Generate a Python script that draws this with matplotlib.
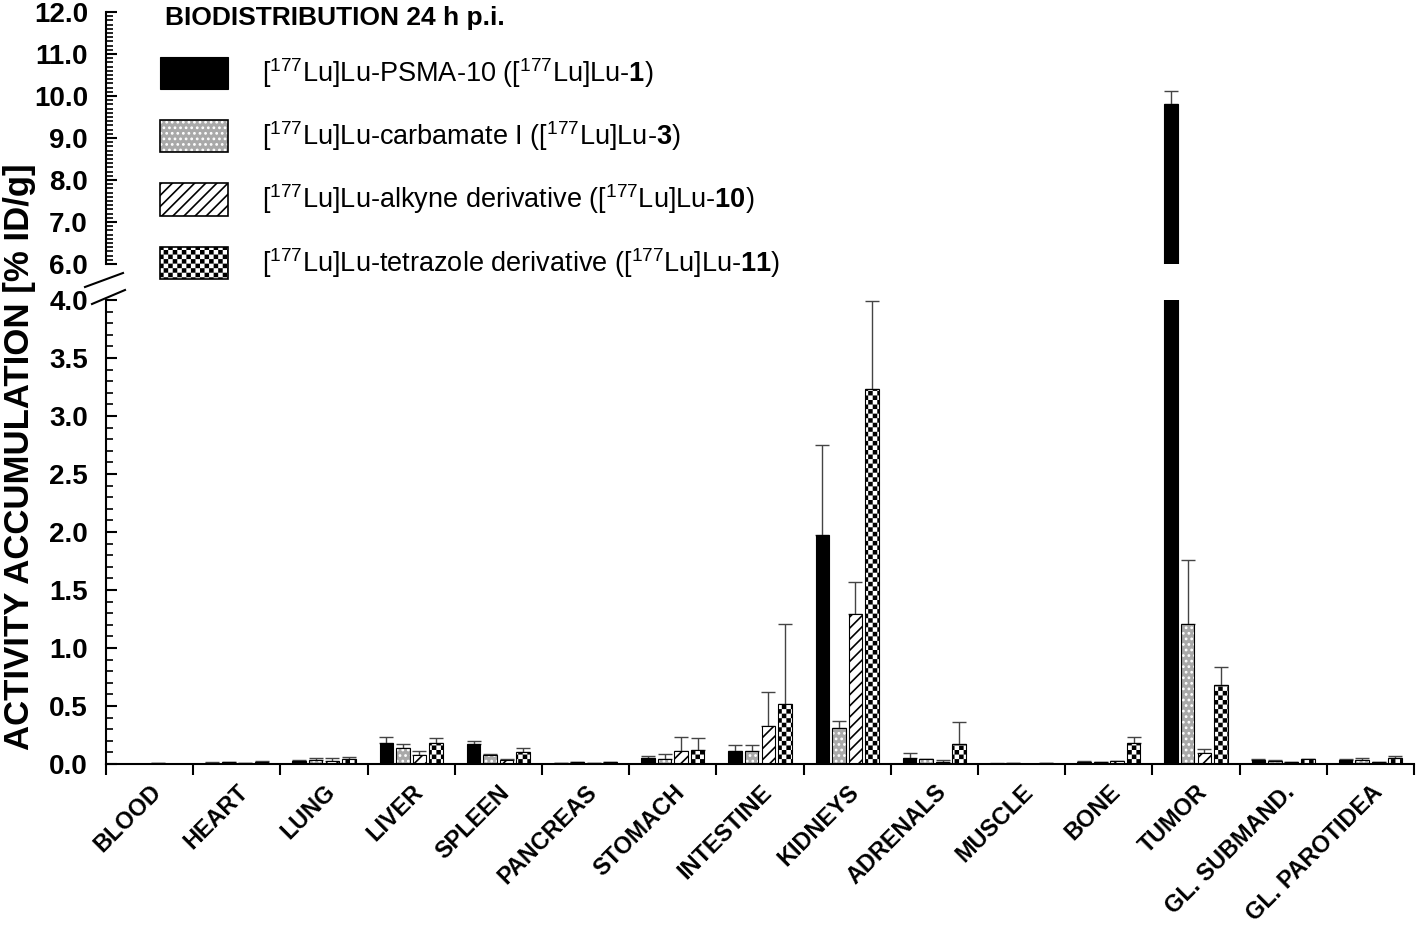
import numpy as np
import matplotlib
matplotlib.use('Agg')
import matplotlib.pyplot as plt
import matplotlib.hatch as mhatch
from matplotlib.path import Path
from matplotlib.patches import Patch
from matplotlib.lines import Line2D
from matplotlib.ticker import MultipleLocator, FormatStrFormatter

# organs (x categories)
organs = ['BLOOD', 'HEART', 'LUNG', 'LIVER', 'SPLEEN', 'PANCREAS', 'STOMACH',
          'INTESTINE', 'KIDNEYS', 'ADRENALS', 'MUSCLE', 'BONE', 'TUMOR',
          'GL. SUBMAND.', 'GL. PAROTIDEA']

# mean values [% ID/g] and SD (upper error only)
psma10 = [0.003, 0.012, 0.03, 0.18, 0.17, 0.01, 0.05, 0.11, 1.97, 0.055, 0.004, 0.02, 9.81, 0.035, 0.035]
psma10_sd = [0.001, 0.003, 0.005, 0.055, 0.025, 0.002, 0.015, 0.055, 0.78, 0.04, 0.001, 0.005, 0.31, 0.005, 0.005]

carbamate = [0.003, 0.013, 0.035, 0.135, 0.08, 0.013, 0.045, 0.11, 0.31, 0.04, 0.006, 0.017, 1.21, 0.03, 0.035]
carbamate_sd = [0.001, 0.003, 0.015, 0.04, 0.01, 0.002, 0.04, 0.055, 0.06, 0.005, 0.004, 0.003, 0.55, 0.005, 0.015]

alkyne = [0.005, 0.01, 0.03, 0.08, 0.035, 0.01, 0.11, 0.33, 1.29, 0.02, 0.002, 0.025, 0.095, 0.015, 0.015]
alkyne_sd = [0.003, 0.002, 0.025, 0.035, 0.005, 0.002, 0.12, 0.29, 0.28, 0.015, 0.001, 0.005, 0.035, 0.002, 0.002]

tetrazole = [0.002, 0.02, 0.045, 0.18, 0.105, 0.015, 0.12, 0.52, 3.23, 0.175, 0.006, 0.18, 0.68, 0.04, 0.05]
tetrazole_sd = [0.001, 0.005, 0.015, 0.045, 0.035, 0.003, 0.105, 0.69, 0.76, 0.19, 0.004, 0.05, 0.16, 0.005, 0.015]

series_labels = [
    r'[$^{177}$Lu]Lu-PSMA-10 ([$^{177}$Lu]Lu-$\mathbf{1}$)',
    r'[$^{177}$Lu]Lu-carbamate I ([$^{177}$Lu]Lu-$\mathbf{3}$)',
    r'[$^{177}$Lu]Lu-alkyne derivative ([$^{177}$Lu]Lu-$\mathbf{10}$)',
    r'[$^{177}$Lu]Lu-tetrazole derivative ([$^{177}$Lu]Lu-$\mathbf{11}$)',
]

plt.rcParams['font.family'] = 'Liberation Sans'
plt.rcParams['mathtext.fontset'] = 'custom'
plt.rcParams['mathtext.rm'] = 'Liberation Sans'
plt.rcParams['mathtext.it'] = 'Liberation Sans:italic'
plt.rcParams['mathtext.bf'] = 'Liberation Sans:bold'
plt.rcParams['hatch.linewidth'] = 1.2


# checkerboard hatch (replaces the '*' star pattern)
class CheckerHatch(mhatch.HatchPatternBase):
    cells = 22

    def __init__(self, hatch, density):
        self.on = hatch.count('*') > 0
        n = self.cells
        self.num_vertices = (n * n // 2) * 5 if self.on else 0

    def set_vertices_and_codes(self, vertices, codes):
        n = self.cells
        s = 1.0 / n
        d = plt.rcParams['hatch.linewidth'] / 144.0
        k = 0
        for i in range(n):
            for j in range(n):
                if (i + j) % 2 == 0:
                    x0, y0 = i * s + d, j * s + d
                    x1, y1 = (i + 1) * s - d, (j + 1) * s - d
                    vertices[k:k + 5] = [[x0, y0], [x1, y0], [x1, y1], [x0, y1], [x0, y0]]
                    codes[k:k + 5] = [Path.MOVETO, Path.LINETO, Path.LINETO,
                                      Path.LINETO, Path.CLOSEPOLY]
                    k += 5


mhatch._hatch_types = [h for h in mhatch._hatch_types if h is not mhatch.Stars] + [CheckerHatch]

fig = plt.figure(figsize=(14.18, 9.34), dpi=100)
W, H = 1418.0, 934.0
left, right = 106 / W, 1414 / W
ax_lo = fig.add_axes([left, (H - 764) / H, right - left, (764 - 300) / H])
ax_hi = fig.add_axes([left, (H - 264) / H, right - left, (264 - 12) / H])

x = np.arange(len(organs)) + 0.5
width = 0.155
step = 0.19
gray = '#a9a9a9'


def draw(ax):
    data = [(psma10, psma10_sd), (carbamate, carbamate_sd),
            (alkyne, alkyne_sd), (tetrazole, tetrazole_sd)]
    for i, (vals, sd) in enumerate(data):
        xi = x + (i - 1.5) * step
        ax.errorbar(xi, vals, yerr=[np.zeros(len(vals)), sd], fmt='none',
                    ecolor='#444444', elinewidth=1.0, capsize=5, capthick=1.0, zorder=1)
        if i == 0:
            ax.bar(xi, vals, width, color='black', edgecolor='black', linewidth=0.8, zorder=2)
        elif i == 1:
            ax.bar(xi, vals, width, color=gray, edgecolor='white', hatch='...',
                   linewidth=0, zorder=2)
            ax.bar(xi, vals, width, fill=False, edgecolor='black', linewidth=0.8, zorder=3)
        elif i == 2:
            ax.bar(xi, vals, width, color='white', edgecolor='black', hatch='///',
                   linewidth=0.8, zorder=2)
        else:
            ax.bar(xi, vals, width, color='white', edgecolor='black', hatch='*',
                   linewidth=0.8, zorder=2)


draw(ax_lo)
draw(ax_hi)

for ax in (ax_lo, ax_hi):
    ax.set_xlim(0, len(organs))
    ax.spines['top'].set_visible(False)
    ax.spines['right'].set_visible(False)
    ax.spines['left'].set_linewidth(1.5)
    ax.yaxis.set_major_formatter(FormatStrFormatter('%.1f'))
    ax.yaxis.set_minor_locator(MultipleLocator(0.1))
    ax.tick_params(axis='y', which='major', direction='in', length=8, width=1.5,
                   labelsize=20, pad=13)
    ax.tick_params(axis='y', which='minor', direction='in', length=5, width=1.2)

ax_lo.set_ylim(0, 4.0)
ax_lo.yaxis.set_major_locator(MultipleLocator(0.5))
ax_lo.spines['bottom'].set_linewidth(1.5)
ax_lo.set_xticks(np.arange(len(organs) + 1))
ax_lo.set_xticklabels([])
ax_lo.tick_params(axis='x', which='major', direction='out', length=8, width=1.5)
ax_lo.set_xticks(x, minor=True)
ax_lo.set_xticklabels(organs, minor=True, rotation=45, ha='right', va='top',
                      rotation_mode='anchor', fontsize=16.8, fontweight='bold')
ax_lo.tick_params(axis='x', which='minor', length=0, pad=12)

ax_hi.set_ylim(6.0, 12.0)
ax_hi.yaxis.set_major_locator(MultipleLocator(1.0))
ax_hi.spines['bottom'].set_visible(False)
ax_hi.set_xticks([])

for ax in (ax_lo, ax_hi):
    for t in ax.get_yticklabels():
        t.set_fontweight('bold')

# axis break marks
for (x0, y0, x1, y1) in [(85, 287, 123, 273), (92, 304, 125, 290)]:
    fig.add_artist(Line2D([x0 / W, x1 / W], [1 - y0 / H, 1 - y1 / H],
                          transform=fig.transFigure, color='black', lw=1.5))

fig.text(20 / W, 1 - 457 / H, 'ACTIVITY ACCUMULATION [% ID/g]', rotation=90,
         ha='center', va='center', fontsize=25, fontweight='bold')
fig.text(165 / W, 1 - 6 / H, 'BIODISTRIBUTION 24 h p.i.', ha='left', va='top',
         fontsize=19, fontweight='bold')

handles = [
    Patch(facecolor='black', edgecolor='black', linewidth=0.8),
    (Patch(facecolor=gray, edgecolor='white', hatch='...', linewidth=0),
     Patch(fill=False, edgecolor='black', linewidth=1.2)),
    Patch(facecolor='white', edgecolor='black', hatch='///', linewidth=1.2),
    Patch(facecolor='white', edgecolor='black', hatch='*', linewidth=1.2),
]
fig.legend(handles, series_labels, loc='upper left',
           bbox_to_anchor=(160 / W, 1 - 56 / H), frameon=False, fontsize=19.5,
           borderpad=0, borderaxespad=0, handlelength=2.5, handleheight=1.45,
           handletextpad=1.25, labelspacing=1.09)

fig.savefig('out.png', dpi=100)
